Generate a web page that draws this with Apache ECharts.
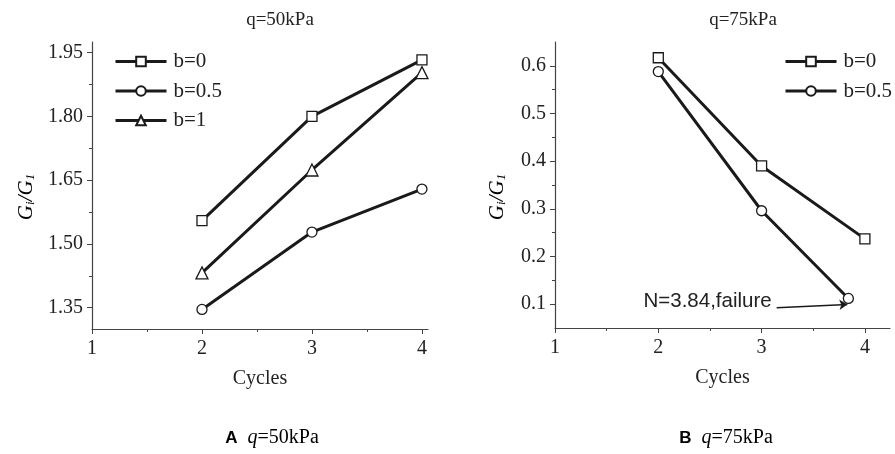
<!DOCTYPE html>
<html>
<head>
<meta charset="utf-8">
<script src="https://cdn.jsdelivr.net/npm/echarts@6/dist/echarts.min.js"></script>
<style>
  html, body { margin: 0; background: #fff; }
  #chart { width: 895px; height: 454px; }
</style>
</head>
<body>
<div id="chart"></div>
<script>
// data
var cycles = [2, 3, 4];
var cycles75b05 = [2, 3, 3.84];          // b=0.5 fails at N=3.84
var q50b0 = [1.555, 1.800, 1.933];
var q50b05 = [1.346, 1.528, 1.629];
var q50b1 = [1.432, 1.674, 1.903];
var q75b0 = [0.617, 0.390, 0.237];
var q75b05 = [0.588, 0.296, 0.112];
var xTicks = [1, 2, 3, 4];
var xMinor = [1.5, 2.5, 3.5];
var y50Ticks = [1.35, 1.50, 1.65, 1.80, 1.95];
var y50Minor = [1.425, 1.575, 1.725, 1.875];
var y75Ticks = [0.1, 0.2, 0.3, 0.4, 0.5, 0.6];
var y75Minor = [0.15, 0.25, 0.35, 0.45, 0.55];
var failureArrow = [[3.146, 0.0926], [3.83, 0.0995]];

var serif = 'Liberation Serif';
var ink = '#1a1a1a';
var axisColor = '#444';

function pairs(xs, ys) {
  return xs.map(function (x, i) { return [x, ys[i]]; });
}

function xMain(grid, max) {
  return {
    type: 'value', gridIndex: grid, position: 'bottom', min: 1, max: max,
    name: 'Cycles', nameLocation: 'middle', nameGap: 40,
    nameTextStyle: { fontFamily: serif, fontSize: 20, color: '#222' },
    axisLine: { show: true, lineStyle: { color: axisColor, width: 1.2 } },
    axisTick: { show: true, customValues: xTicks, length: 5, lineStyle: { color: axisColor } },
    axisLabel: { customValues: xTicks, margin: 10, fontFamily: serif, fontSize: 20, color: '#222' },
    splitLine: { show: false }
  };
}
function xMinorAxis(grid, max) {
  return {
    type: 'value', gridIndex: grid, position: 'bottom', min: 1, max: max,
    axisLine: { show: false },
    axisTick: { show: true, customValues: xMinor, length: 3, lineStyle: { color: axisColor } },
    axisLabel: { show: false }, splitLine: { show: false }
  };
}
function yMain(grid, min, max, ticks, digits) {
  return {
    type: 'value', gridIndex: grid, position: 'left', min: min, max: max,
    axisLine: { show: true, lineStyle: { color: axisColor, width: 1.2 } },
    axisTick: { show: true, customValues: ticks, length: 5, lineStyle: { color: axisColor } },
    axisLabel: {
      customValues: ticks, margin: 9, fontFamily: serif, fontSize: 20, color: '#222',
      formatter: function (v) { return v.toFixed(digits); }
    },
    splitLine: { show: false }
  };
}
function yMinorAxis(grid, min, max, ticks) {
  return {
    type: 'value', gridIndex: grid, position: 'left', min: min, max: max,
    axisLine: { show: false },
    axisTick: { show: true, customValues: ticks, length: 3, lineStyle: { color: axisColor } },
    axisLabel: { show: false }, splitLine: { show: false }
  };
}
function line(name, data, symbol, xi, yi, size) {
  return {
    name: name, type: 'line', data: data, xAxisIndex: xi, yAxisIndex: yi,
    symbol: symbol, symbolSize: size || 10, showAllSymbol: true,
    lineStyle: { color: ink, width: 3 },
    itemStyle: { color: '#fff', borderColor: ink, borderWidth: 1.3 },
    emphasis: { disabled: true }
  };
}
function legendAt(names, left) {
  return {
    data: names, orient: 'vertical', left: left, top: 51, padding: 0,
    itemWidth: 51, itemHeight: 12, itemGap: 8.5, selectedMode: false,
    lineStyle: { width: 3 },
    textStyle: { fontFamily: serif, fontSize: 21, color: '#222', lineHeight: 20, padding: [0, 0, 0, 2] }
  };
}

var rich = {
  g: { fontFamily: serif, fontStyle: 'italic', fontSize: 21, color: '#222' },
  s: { fontFamily: serif, fontStyle: 'italic', fontSize: 13, color: '#222', padding: [9, 0, 0, 0] }
};
var capRich = {
  a: { fontFamily: 'Liberation Sans', fontWeight: 'bold', fontSize: 17, color: '#222', padding: [0, 10, 0, 0] },
  q: { fontFamily: serif, fontStyle: 'italic', fontSize: 20, color: '#222' },
  t: { fontFamily: serif, fontSize: 20, color: '#222' }
};

var chart = echarts.init(document.getElementById('chart'));
var b05Right = line('b=0.5', pairs(cycles75b05, q75b05), 'circle', 2, 2);
b05Right.markLine = {
  silent: true, symbol: ['none', 'arrow'], symbolSize: 8,
  lineStyle: { color: ink, width: 1.5, type: 'solid' },
  label: {
    show: true, position: 'start', distance: 5, formatter: 'N=3.84,failure',
    fontFamily: 'Liberation Sans', fontSize: 20.5, color: '#222',
    verticalAlign: 'bottom', lineHeight: 14
  },
  data: [[{ coord: failureArrow[0] }, { coord: failureArrow[1] }]]
};

chart.setOption({
  animation: false,
  backgroundColor: '#fff',
  grid: [
    { left: 92, top: 42, width: 336, height: 287 },
    { left: 555, top: 42, width: 335, height: 286 }
  ],
  xAxis: [xMain(0, 4.055), xMinorAxis(0, 4.055), xMain(1, 4.243), xMinorAxis(1, 4.243)],
  yAxis: [
    yMain(0, 1.30, 1.975, y50Ticks, 2), yMinorAxis(0, 1.30, 1.975, y50Minor),
    yMain(1, 0.05, 0.65, y75Ticks, 1), yMinorAxis(1, 0.05, 0.65, y75Minor)
  ],
  legend: [legendAt(['b=0', 'b=0.5', 'b=1'], 114), legendAt(['b=0', 'b=0.5'], 784)],
  series: [
    line('b=0', pairs(cycles, q50b0), 'rect', 0, 0),
    line('b=0.5', pairs(cycles, q50b05), 'circle', 0, 0),
    line('b=1', pairs(cycles, q50b1), 'triangle', 0, 0, 12),
    line('b=0', pairs(cycles, q75b0), 'rect', 2, 2),
    b05Right
  ],
  graphic: [
    { type: 'text', x: 280, y: 20, style: { text: 'q=50kPa', font: '19px "Liberation Serif"', fill: '#222', align: 'center', verticalAlign: 'middle' } },
    { type: 'text', x: 743, y: 20, style: { text: 'q=75kPa', font: '19px "Liberation Serif"', fill: '#222', align: 'center', verticalAlign: 'middle' } },
    { type: 'text', x: 26, y: 197, rotation: Math.PI / 2, style: { text: '{g|G}{s|i}{g|/G}{s|1}', rich: rich, align: 'center', verticalAlign: 'middle' } },
    { type: 'text', x: 497, y: 197, rotation: Math.PI / 2, style: { text: '{g|G}{s|i}{g|/G}{s|1}', rich: rich, align: 'center', verticalAlign: 'middle' } },
    { type: 'text', x: 272, y: 438, style: { text: '{a|A}{q|q}{t|=50kPa}', rich: capRich, align: 'center', verticalAlign: 'middle' } },
    { type: 'text', x: 726, y: 438, style: { text: '{a|B}{q|q}{t|=75kPa}', rich: capRich, align: 'center', verticalAlign: 'middle' } }
  ]
});
</script>
</body>
</html>
